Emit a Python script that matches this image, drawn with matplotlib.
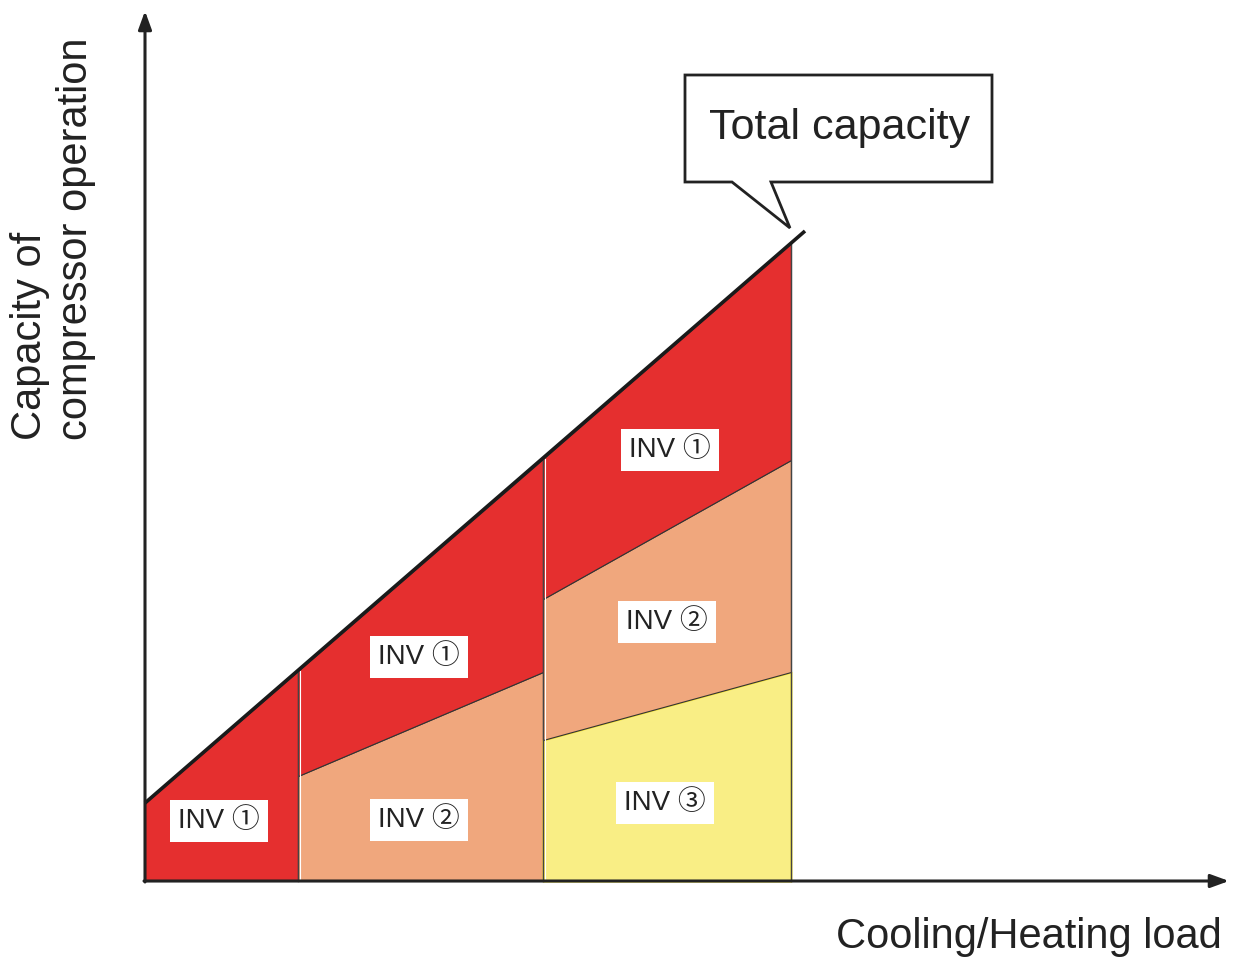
import matplotlib.pyplot as plt
from matplotlib.patches import Polygon

plt.rcParams['font.family'] = ['Liberation Sans', 'DejaVu Sans']

# load steps (x) and capacity levels (y), schematic units
seg_x = [[0, 153], [153, 398], [398, 646]]
total_cap = [[78, 210], [210, 422], [422, 638]]
inv2_top = [None, [105, 209], [282, 421]]
inv3_top = [None, None, [141, 209]]
total_line_x = [0, 660]
total_line_y = [78, 650]

labels = ['INV \u2460', 'INV \u2460', 'INV \u2461', 'INV \u2460', 'INV \u2461', 'INV \u2462']
label_xy = [(74, 60), (274, 224), (274, 61), (525, 431), (522, 259), (520, 78)]

RED = '#E52F2F'
ORANGE = '#F0A77D'
YELLOW = '#F9EE85'

fig = plt.figure(figsize=(12.36, 9.57), dpi=100)
ax = fig.add_axes([0, 0, 1, 1])
ax.set_xlim(-145, 1091)
ax.set_ylim(-76, 881)
ax.axis('off')

for i, xs in enumerate(seg_x):
    lo = [0, 0]
    if inv3_top[i] is not None:
        ax.fill_between(xs, lo, inv3_top[i], facecolor=YELLOW, edgecolor='#F2E02A', lw=1.5, zorder=2)
        lo = inv3_top[i]
    if inv2_top[i] is not None:
        ax.fill_between(xs, lo, inv2_top[i], facecolor=ORANGE, edgecolor='#333333', lw=0.8, zorder=2)
        lo = inv2_top[i]
    ax.fill_between(xs, lo, total_cap[i], facecolor=RED, edgecolor='#333333', lw=0.8, zorder=2)
    ax.plot([xs[1], xs[1]], [0, total_cap[i][1]], color='#444444', lw=1.0, zorder=3)
    ax.plot([xs[1] + 2, xs[1] + 2], [0, total_cap[i][1]], color='white', lw=0.8, zorder=3)

ax.plot(total_line_x, total_line_y, color='#1a1a1a', lw=2.6, zorder=4, solid_capstyle='butt')

for txt, (x, y) in zip(labels, label_xy):
    ax.text(x, y, txt, fontsize=20, ha='center', va='center', color='#222222', zorder=5,
            family=['Liberation Sans', 'Noto Sans CJK JP'],
            bbox=dict(boxstyle='square,pad=0.3', fc='white', ec='none'))

# axes arrows
ax.annotate('', xy=(0, 870), xytext=(0, -1), zorder=6,
            arrowprops=dict(arrowstyle='-|>,head_length=1.1,head_width=0.4', color='#222222', lw=2.2,
                            shrinkA=0, shrinkB=0))
ax.annotate('', xy=(1084, 0), xytext=(-1, 0), zorder=6,
            arrowprops=dict(arrowstyle='-|>,head_length=1.1,head_width=0.4', color='#222222', lw=2.2,
                            shrinkA=0, shrinkB=0))

# callout
callout = [(540, 806), (847, 806), (847, 699), (626, 699), (645, 653), (587, 699), (540, 699)]
ax.add_patch(Polygon(callout, closed=True, fc='white', ec='#222222', lw=2, zorder=6))
ax.text(695, 753, 'Total capacity', fontsize=31, ha='center', va='center', color='#222222', zorder=7)

ax.text(-92, 441, 'Capacity of\ncompressor operation', fontsize=30, rotation=90,
        ha='center', va='bottom', multialignment='left', color='#222222', linespacing=1.22)
ax.text(1077, -67, 'Cooling/Heating load', fontsize=30, ha='right', va='baseline', color='#222222')

fig.savefig('out.png', dpi=100)
